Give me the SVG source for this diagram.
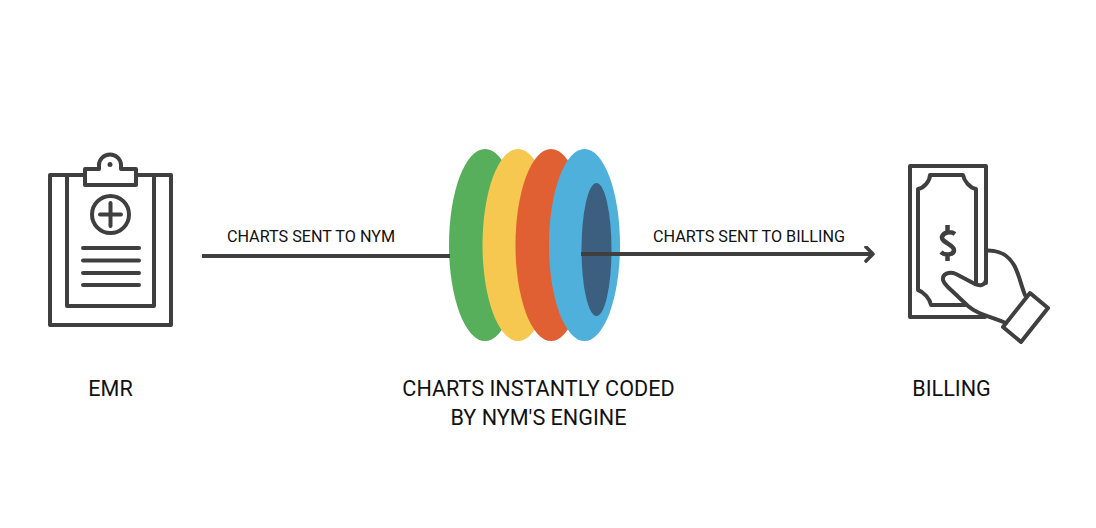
<svg xmlns="http://www.w3.org/2000/svg" width="1096" height="528" viewBox="0 0 1096 528">
<style>
.s{fill:none;stroke:#3f3f3f;stroke-width:4;stroke-linejoin:round;stroke-linecap:round}
.t{font-family:Roboto,"Liberation Sans",sans-serif;fill:#111}
.l{font-size:16.200px}.h{font-size:21.600px}
</style>
<defs><marker id="a" markerUnits="userSpaceOnUse" markerWidth="16" markerHeight="20" refX="13" refY="8" orient="auto"><path d="M6 1L13 8L6 15" fill="none" stroke="#3f3f3f" stroke-width="3.6" stroke-linecap="round" stroke-linejoin="round"/></marker></defs>
<rect width="1096" height="528" fill="#fff"/>
<g id="emr">
<path class="s" d="M85 175H50V325H171V175H136"/>
<path class="s" d="M67 175V306H154V175"/>
<path class="s" d="M85 169H99V165A11 10.500 0 0 1 121 165V169H136V185H85Z" fill="#fff"/>
<circle cx="110" cy="164.500" r="2.500" fill="#3f3f3f"/>
<circle class="s" cx="110.500" cy="214.500" r="18.500"/>
<path class="s" d="M100 214.500H121M110.500 203V226"/>
<path class="s" d="M83 248H139M83 260.500H139M83 273H139M83 285H139"/>
<text class="t h" x="110.500" y="396" text-anchor="middle">EMR</text>
</g>
<g id="engine">
<ellipse cx="485" cy="245" rx="36" ry="96" fill="#57ae5b"/>
<ellipse cx="518" cy="245" rx="35.500" ry="96" fill="#f6c84f"/>
<ellipse cx="551" cy="245" rx="35.500" ry="96" fill="#e06033"/>
<ellipse cx="584.500" cy="245" rx="35.500" ry="96" fill="#4fb0dc"/>
<ellipse cx="596.500" cy="249.500" rx="15" ry="66.500" fill="#3d5f7f"/>
<text class="t h" x="538.500" y="396" text-anchor="middle">CHARTS INSTANTLY CODED</text>
<text class="t h" x="538.500" y="425" text-anchor="middle">BY NYM'S ENGINE</text>
</g>
<g id="billing">
<path class="s" d="M986 283V166H910V317H985"/>
<path class="s" d="M986 250.500C1000 250 1008 255 1014 265C1019 274 1021 285 1025 295"/>
<path class="s" d="M986 270V280C985 286 979 286 975 284L956 274C949 271 942 274 943 280C944 284 946 285 950 289L968 306C976 313 985 315 1006 323"/>
<path class="s" d="M1030 293L1048 308L1021 342L1003 327Z"/>
<path class="s" d="M930 175H963C964 181 970 188 976 189V284M965 305H931C930 299 924 292 918 290V189C924 188 930 181 930 175"/>
<path class="s" style="stroke-width:4.500;stroke-linecap:butt" d="M955 234C951 231 943 232 942 237C941 242 954 245 954 250C954 255 945 256 941 252M947.500 225V231M947.500 255V261"/>
<text class="t h" x="951.500" y="396" text-anchor="middle">BILLING</text>
</g>
<g id="connectors">
<path d="M202 256H450" fill="none" stroke="#3f3f3f" stroke-width="4"/>
<path d="M581 254H873" fill="none" stroke="#3f3f3f" stroke-width="4" marker-end="url(#a)"/>
</g>
<text class="t l" x="311" y="242" text-anchor="middle">CHARTS SENT TO NYM</text>
<text class="t l" x="749" y="242" text-anchor="middle">CHARTS SENT TO BILLING</text>
</svg>
